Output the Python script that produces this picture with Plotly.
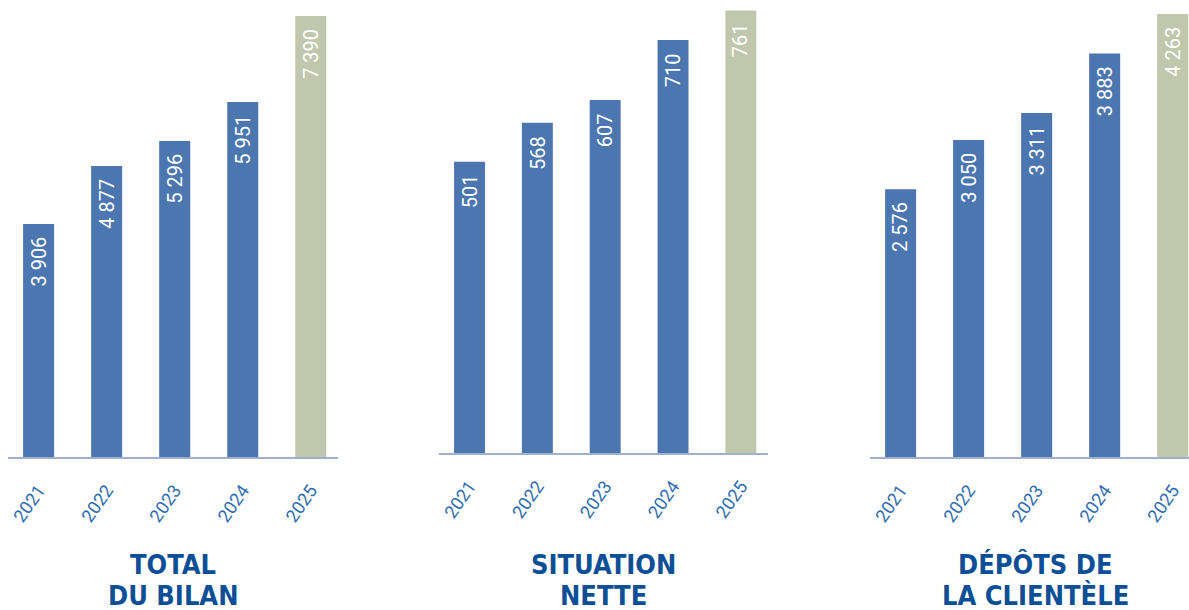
import plotly.graph_objects as go

years = ["2021", "2022", "2023", "2024", "2025"]
total_bilan = [3906, 4877, 5296, 5951, 7390]
situation_nette = [501, 568, 607, 710, 761]
depots_clientele = [2576, 3050, 3311, 3883, 4263]
value_labels_1 = ["3 906", "4 877", "5 296", "5 951", "7 390"]
value_labels_2 = ["501", "568", "607", "710", "761"]
value_labels_3 = ["2 576", "3 050", "3 311", "3 883", "4 263"]
titles = [["TOTAL", "DU BILAN"], ["SITUATION", "NETTE"], ["DÉPÔTS DE", "LA CLIENTÈLE"]]

W, H = 1189, 610
BLUE = "#4b76b0"
GREEN = "#c1c7ad"
TITLE_COLOR = "#0c4f97"
TICK_COLOR = "#2f6cae"
AXIS_LINE = "#9fb0cf"

colors = [BLUE, BLUE, BLUE, BLUE, GREEN]

panels = [
    dict(vals=total_bilan, labels=value_labels_1, xdom=(8, 338), base=457, ymax=7659, xr=[-0.45, 4.4], tx=173),
    dict(vals=situation_nette, labels=value_labels_2, xdom=(439, 768), base=453, ymax=779, xr=[-0.45, 4.4], tx=603.5),
    dict(vals=depots_clientele, labels=value_labels_3, xdom=(870, 1189), base=457, ymax=4398, xr=[-0.45, 4.24], tx=1035.5),
]

fig = go.Figure()
annotations = []
for i, p in enumerate(panels):
    n = "" if i == 0 else str(i + 1)
    xa, ya = "x" + n, "y" + n
    fig.add_trace(go.Bar(
        x=years, y=p["vals"], marker=dict(color=colors, line=dict(width=0)),
        width=0.456, xaxis=xa, yaxis=ya, showlegend=False, hoverinfo="skip",
    ))
    fig.layout["xaxis" + n] = dict(
        domain=[p["xdom"][0] / W, p["xdom"][1] / W], anchor=ya, type="category",
        range=p["xr"], showline=True, linecolor=AXIS_LINE, linewidth=1.5,
        showgrid=False, zeroline=False, ticks="", tickangle=-55,
        tickfont=dict(family="Roboto", size=18, color=TICK_COLOR),
        ticklabelstandoff=14, fixedrange=True,
    )
    fig.layout["yaxis" + n] = dict(
        domain=[(H - p["base"]) / H, 1], anchor=xa, range=[0, p["ymax"]],
        visible=False, showgrid=False, zeroline=False, fixedrange=True,
    )
    for k, (v, lab) in enumerate(zip(p["vals"], p["labels"])):
        annotations.append(dict(
            x=k, y=v, xref=xa, yref=ya, text=lab, showarrow=False,
            textangle=-90, yanchor="top", xanchor="center", yshift=-11,
            font=dict(family="Roboto", size=20, color="white"),
        ))
    for j, line in enumerate(titles[i]):
        annotations.append(dict(
            x=p["tx"] / W, y=1 - (564 + 31 * j) / H, xref="paper", yref="paper",
            text="<b>" + line + "</b>", showarrow=False,
            xanchor="center", yanchor="middle",
            font=dict(family="Liberation Sans Narrow, Arial Narrow, DejaVu Sans Condensed", size=27, color=TITLE_COLOR),
        ))

fig.update_layout(
    width=W, height=H, margin=dict(l=0, r=0, t=0, b=0),
    paper_bgcolor="white", plot_bgcolor="white",
    annotations=annotations,
)
fig.write_html("out.html", config={"displayModeBar": False},
               post_script="document.body.style.margin='0';")
